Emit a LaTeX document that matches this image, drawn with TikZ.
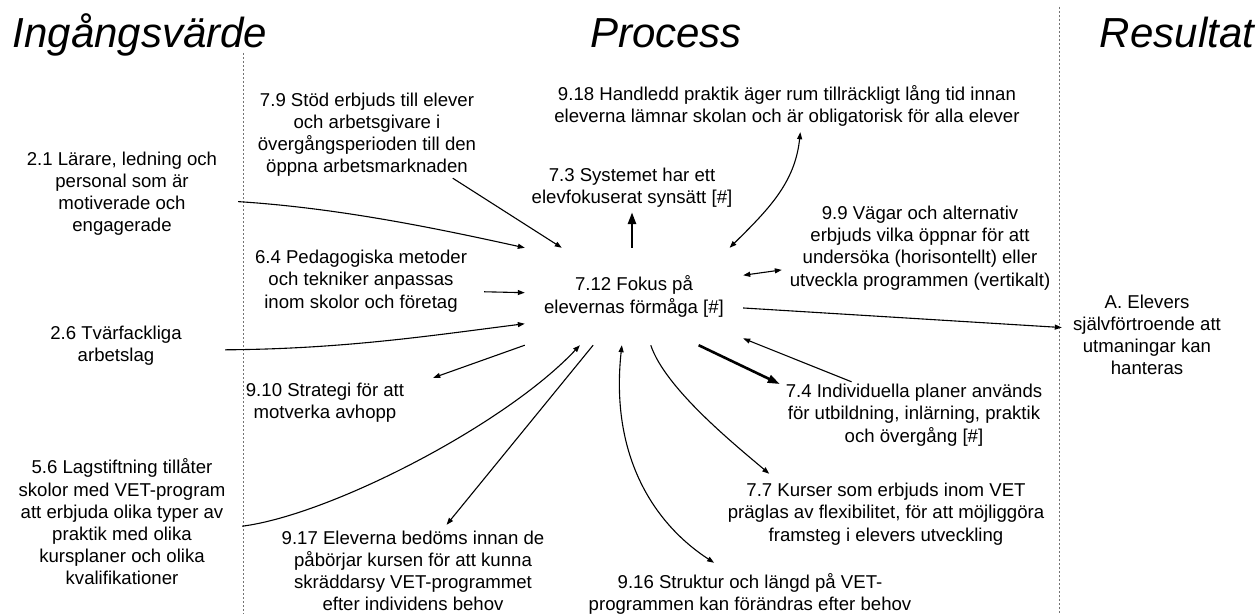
\documentclass[tikz,border=0pt]{standalone}
\usepackage{fontspec}
\setmainfont{Liberation Sans}
\usetikzlibrary{arrows.meta}
\begin{document}
\begin{tikzpicture}[x=1bp,y=-1bp,
  lbl/.style={font=\fontsize{18.6bp}{22.2bp}\selectfont, align=center, inner sep=0pt},
  hdr/.style={font=\fontsize{42bp}{48bp}\selectfont\itshape, inner sep=0pt, anchor=base},
  conn/.style={line width=1.1bp, -{Triangle[length=7bp,width=5bp]}},
  both/.style={line width=1.1bp, {Triangle[length=7bp,width=5bp]}-{Triangle[length=7bp,width=5bp]}},
  heavy/.style={line width=2.6bp, -{Triangle[length=12bp,width=8bp]}},
  divider/.style={black!55, line width=1bp, dash pattern=on 2bp off 2bp}]

% canvas
\path[use as bounding box, fill=white] (0,0) rectangle (1260,614);

% column dividers
\coordinate (d1t) at (243,53);
\coordinate (d1b) at (243,614);
\coordinate (d2t) at (1059,7);
\coordinate (d2b) at (1059,614);
\draw[divider] (d1t) -- (d1b);
\draw[divider] (d2t) -- (d2b);

% column headings
\node[hdr] (hin)  at (140,48)  {Ingångsvärde};
\node[hdr] (hpr)  at (666,48)  {Process};
\node[hdr] (hres) at (1177,48) {Resultat};

% central factor
\node[lbl, minimum width=218bp, minimum height=97bp] (n712) at (634,296.5)
  {7.12 Fokus på\\elevernas förmåga [\#]};

% input factors
\node[lbl, minimum width=232bp, minimum height=88bp] (n21) at (122,193.5)
  {2.1 Lärare, ledning och\\personal som är\\motiverade och\\engagerade};
\node[lbl, minimum width=218bp, minimum height=44bp] (n26) at (116,346)
  {2.6 Tvärfackliga\\arbetslag};
\node[lbl, minimum width=240bp, minimum height=132bp] (n56) at (122,522)
  {5.6 Lagstiftning tillåter\\skolor med VET-program\\att erbjuda olika typer av\\praktik med olika\\kursplaner och olika\\kvalifikationer};

% process factors
\node[lbl, minimum width=246bp, minimum height=87bp] (n79) at (367,134.5)
  {7.9 Stöd erbjuds till elever\\och arbetsgivare i\\övergångsperioden till den\\öppna arbetsmarknaden};
\node[lbl, minimum width=470bp, minimum height=52bp] (n918) at (787,106)
  {9.18 Handledd praktik äger rum tillräckligt lång tid innan\\eleverna lämnar skolan och är obligatorisk för alla elever};
\node[lbl, minimum width=210bp, minimum height=49bp] (n73) at (632,187.5)
  {7.3 Systemet har ett\\elevfokuserat synsätt [\#]};
\node[lbl, minimum width=276bp, minimum height=88bp] (n99) at (920,248)
  {9.9 Vägar och alternativ\\erbjuds vilka öppnar för att\\undersöka (horisontellt) eller\\utveckla programmen (vertikalt)};
\node[lbl, minimum width=246bp, minimum height=66bp] (n64) at (361,281)
  {6.4 Pedagogiska metoder\\och tekniker anpassas\\inom skolor och företag};
\node[lbl, minimum width=216bp, minimum height=50bp] (n910) at (325,403)
  {9.10 Strategi för att\\motverka avhopp};
\node[lbl, minimum width=268bp, minimum height=66bp] (n74) at (914,415)
  {7.4 Individuella planer används\\för utbildning, inlärning, praktik\\och övergång [\#]};
\node[lbl, minimum width=320bp, minimum height=80bp] (n77) at (886,514)
  {7.7 Kurser som erbjuds inom VET\\präglas av flexibilitet, för att möjliggöra\\framsteg i elevers utveckling};
\node[lbl, minimum width=270bp, minimum height=92bp] (n917) at (413,571)
  {9.17 Eleverna bedöms innan de\\påbörjar kursen för att kunna\\skräddarsy VET-programmet\\efter individens behov};
\node[lbl, minimum width=330bp, minimum height=62bp] (n916) at (750,594)
  {9.16 Struktur och längd på VET-\\programmen kan förändras efter behov};

% outcome
\node[lbl, minimum width=170bp, minimum height=88bp] (nA) at (1147,335)
  {A. Elevers\\självförtroende att\\utmaningar kan\\hanteras};

% connectors into the central factor
\draw[conn] (n21.-4) .. controls (338,208) and (435,228) .. (n712.north west);
\draw[conn] (n79.-27) -- (n712.146);
\draw[conn] (n64.-5) -- (n712.178);
\draw[conn] (n26.-2) .. controls (345,349) and (435,335) .. (n712.-166);
\draw[conn] (n56.-2) .. controls (330,515) and (505,425) .. (n712.-138);
\draw[conn] (n74.152) -- (n712.-21);

% connectors out of the central factor
\draw[heavy] (n712.north -| n73.south) -- (n73.south);
\draw[conn] (n712.south west) -- (n910.north east);
\draw[conn] (n712.-130) -- (n917.54);
\draw[conn] (n712.-71) .. controls (665,388) and (734,444) .. (n77.161);
\draw[heavy] (n712.-37) -- (n74.167);
\draw[conn] (n712.-6) -- (nA.175);

% two-way connectors
\draw[both] (n918.-63) .. controls (795,182) and (770,208) .. (n712.27);
\draw[both] (n712.11) -- (n99.189);
\draw[both] (n712.-104) .. controls (610,455) and (653,523) .. (n916.139);

\end{tikzpicture}
\end{document}
